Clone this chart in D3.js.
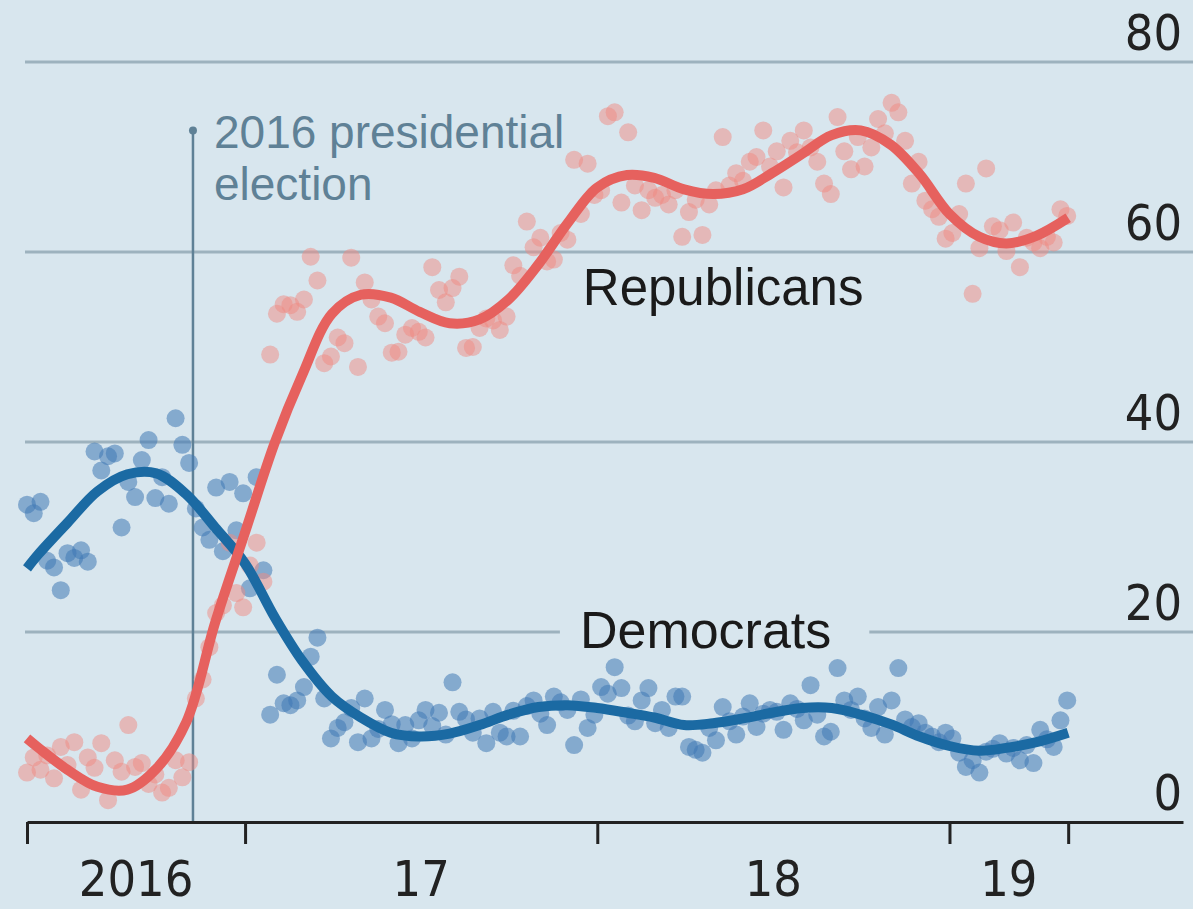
<!DOCTYPE html>
<html>
<head>
<meta charset="utf-8">
<script src="https://d3js.org/d3.v7.min.js"></script>
<style>
  html, body { margin: 0; padding: 0; background: #d8e6ee; }
  svg { display: block; }
</style>
</head>
<body>
<svg id="chart"></svg>
<script>
// weekly polls, first one on 2016-05-20
const pollStart = "2016-05-20";

const repPolls = [
  5.2, 6.8, 5.5, 7.0, 4.6, 7.9, 6.0, 8.4, 3.4, 6.8,
  5.7, 8.3, 2.3, 6.5, 5.3, 10.2, 5.8, 6.2, 4.0, 5.0,
  3.1, 3.6, 6.5, 4.7, 6.3, 13, 15, 18.4, 22, 22.8,
  29.4, 24.1, 22.6, 27, 29.4, 25.3, 49.2, 53.5, 54.5, 54.4,
  53.7, 55, 59.5, 57, 48.3, 49, 51, 50.4, 59.4, 47.9,
  56.8, 55, 53.2, 52.5, 49.4, 49.5, 51.3, 52, 51.6, 51,
  58.4, 56, 54.7, 56.2, 57.4, 49.9, 50, 52, 53, 52.8,
  51.8, 53.2, 58.6, 57.5, 63.2, 60.5, 61.5, 59, 59.2, 62,
  61.3, 69.7, 64, 69.3, 66, 66.5, 74.3, 74.7, 65.2, 72.6,
  67, 64.4, 66.5, 65.7, 66, 65, 66.5, 61.6, 64.2, 65.5,
  61.8, 65, 66.5, 72.1, 67, 68.3, 67.5, 69.5, 70, 72.8,
  69, 70.6, 66.8, 71.7, 70.5, 72.8, 71, 69.5, 67.2, 66.1,
  74.2, 70.6, 68.7, 72.1, 69, 71, 74, 72.5, 75.7, 74.7,
  71.7, 67.2, 69.5, 65.4, 64.5, 63.7, 61.4, 62, 64, 67.2,
  55.6, 60.4, 68.8, 62.7, 62.3, 60.1, 63.1, 58.4, 61.5, 61,
  60.4, 61.6, 61, 64.5, 63.8
];

const demPolls = [
  33.4, 32.5, 33.7, 27.5, 26.8, 24.4, 28.3, 27.8, 28.6, 27.4,
  39, 37, 38.5, 38.8, 31, 35.8, 34.2, 38.1, 40.2, 34.1,
  36.3, 33.5, 42.5, 39.7, 37.8, 33, 31, 29.7, 35.2, 28.5,
  35.8, 30.7, 34.6, 24.6, 36.3, 26.5, 11.3, 15.5, 12.5, 12.3,
  12.8, 14.2, 17.4, 19.4, 13, 8.8, 9.9, 10.5, 12, 8.4,
  13, 8.8, 9.8, 11.8, 10.3, 8.3, 10.2, 8.8, 10.7, 11.8,
  10.1, 11.5, 9.2, 14.7, 11.6, 10.8, 9.4, 10.9, 8.3, 11.6,
  9.4, 9, 11.7, 9, 12.2, 12.8, 11.4, 10.2, 13.2, 12.6,
  11.8, 8.1, 12.9, 9.9, 11.3, 14.2, 13.5, 16.3, 14.1, 11.2,
  10.6, 12.8, 14.1, 10.4, 11.8, 9.9, 13.2, 13.2, 7.9, 7.6,
  7.3, 9.9, 8.6, 12.1, 10.6, 9.2, 11.1, 12.5, 10, 11.4,
  11.8, 11.6, 9.7, 12.5, 11.9, 10.7, 14.4, 11.3, 9, 9.5,
  16.2, 12.8, 11.8, 13.2, 10.9, 9.9, 12.1, 9.2, 12.8, 16.2,
  10.8, 10, 10.4, 9.4, 9, 8.4, 9.4, 8.8, 7.3, 5.8,
  6.5, 5.2, 7.4, 7.7, 8.3, 7.2, 7.8, 6.5, 8.1, 6.2,
  9.7, 8.7, 7.9, 10.7, 12.8
];

// smoothed trend, read off roughly monthly
const trendDates = [
  "2016-05-20", "2016-06-01", "2016-07-01", "2016-08-01", "2016-09-01", "2016-10-01",
  "2016-11-01", "2016-12-01", "2017-01-01", "2017-02-01", "2017-03-01", "2017-04-01",
  "2017-05-01", "2017-06-01", "2017-07-01", "2017-08-01", "2017-09-01", "2017-10-01",
  "2017-11-01", "2017-12-01", "2018-01-01", "2018-02-01", "2018-03-01", "2018-04-01",
  "2018-05-01", "2018-06-01", "2018-07-01", "2018-08-01", "2018-09-01", "2018-10-01",
  "2018-11-01", "2018-12-01", "2019-01-01", "2019-02-01", "2019-03-01", "2019-04-01",
  "2019-05-04"
];
const repTrend = [
  8.8, 7.8, 5.5, 3.7, 3.4, 5.6, 10.5, 21, 30.5, 40, 47, 53.5,
  55.5, 55.2, 53.7, 52.5, 52.9, 55, 58.7, 63, 66.8, 68.1, 67.8, 66.6,
  66.1, 66.6, 68.3, 70.3, 72.3, 72.8, 71.3, 68.2, 64, 61.6, 60.9, 61.7,
  63.6
];
const demTrend = [
  26.7, 28.2, 31.5, 34.8, 36.6, 36.7, 34.5, 31, 27.2, 21.5, 17, 13.2,
  11, 9.4, 9, 9.3, 10.2, 11.3, 12.1, 12.3, 12, 11.5, 11, 10.2,
  10.4, 10.9, 11.5, 12, 12, 11.3, 10.3, 9, 8, 7.5, 7.8, 8.4,
  9.4
];

const yTicks = [0, 20, 40, 60, 80];
const xTickDates = ["2016-05-20", "2017-01-01", "2018-01-01", "2019-01-01", "2019-05-04"];
const yearLabels = ["2016", "17", "18", "19"];
const electionDate = "2016-11-08";

const W = 1193, H = 909;
const bg = "#d8e6ee";
const parse = d3.timeParse("%Y-%m-%d");
const t0 = parse(pollStart);

const svg = d3.select("#chart").attr("width", W).attr("height", H);
svg.append("rect").attr("width", W).attr("height", H).attr("fill", bg);

const x = d3.scaleTime()
  .domain([parse("2016-05-20"), parse("2019-08-31")])
  .range([27, 1183]);
const y = d3.scaleLinear().domain([0, 80]).range([822, 62]);

const sansFont = "'Liberation Sans', Arial, sans-serif";
const narrowFont = "'Liberation Sans Narrow', 'DejaVu Sans Condensed', sans-serif";

// gridlines + right-hand labels
const grid = svg.append("g");
grid.selectAll("line")
  .data(yTicks.filter(d => d > 0))
  .join("line")
    .attr("x1", 25).attr("x2", W)
    .attr("y1", d => y(d)).attr("y2", d => y(d))
    .attr("stroke", "#9db2be")
    .attr("stroke-width", 3);

svg.append("g").selectAll("text")
  .data(yTicks)
  .join("text")
    .attr("x", 1182)
    .attr("y", d => y(d) - 12)
    .attr("text-anchor", "end")
    .attr("font-family", narrowFont)
    .attr("font-size", 50)
    .attr("fill", "#222")
    .text(d => d);

// election marker
const xe = x(parse(electionDate));
svg.append("line")
  .attr("x1", xe).attr("x2", xe)
  .attr("y1", y(72.8)).attr("y2", y(0))
  .attr("stroke", "#5f8196")
  .attr("stroke-width", 2.5);
svg.append("circle")
  .attr("cx", xe).attr("cy", y(72.8)).attr("r", 4)
  .attr("fill", "#5f8196");
const elect = svg.append("text")
  .attr("font-family", sansFont)
  .attr("font-size", 46)
  .attr("fill", "#5f8196");
elect.append("tspan").attr("x", xe + 21).attr("y", y(70.9)).text("2016 presidential");
elect.append("tspan").attr("x", xe + 21).attr("y", y(65.5)).text("election");

// label patch that cuts the 20 gridline (sized after the text below)
const patch = svg.append("rect").attr("fill", bg);

// poll dots
const weekDate = i => d3.timeDay.offset(t0, 7 * i);

svg.append("g").selectAll("circle")
  .data(demPolls)
  .join("circle")
    .attr("cx", (d, i) => x(weekDate(i)))
    .attr("cy", d => y(d))
    .attr("r", 9)
    .attr("fill", "#3f78b5")
    .attr("fill-opacity", 0.55);

svg.append("g").selectAll("circle")
  .data(repPolls)
  .join("circle")
    .attr("cx", (d, i) => x(weekDate(i)))
    .attr("cy", d => y(d))
    .attr("r", 9)
    .attr("fill", "#f08a82")
    .attr("fill-opacity", 0.5);

// trend lines
const tDates = trendDates.map(parse);
const line = d3.line()
  .x((d, i) => x(tDates[i]))
  .y(d => y(d))
  .curve(d3.curveCatmullRom);

svg.append("path")
  .attr("d", line(demTrend))
  .attr("fill", "none")
  .attr("stroke", "#1b6aa3")
  .attr("stroke-width", 10);

svg.append("path")
  .attr("d", line(repTrend))
  .attr("fill", "none")
  .attr("stroke", "#e6615e")
  .attr("stroke-width", 10);

// series labels
svg.append("text")
  .attr("x", x(parse("2017-12-17")))
  .attr("y", y(54.4))
  .attr("font-family", sansFont)
  .attr("font-size", 51)
  .attr("fill", "#1a1a1a")
  .text("Republicans");

const dem = svg.append("text")
  .attr("x", x(parse("2017-12-14")))
  .attr("y", y(18.3))
  .attr("font-family", sansFont)
  .attr("font-size", 52)
  .attr("fill", "#1a1a1a")
  .text("Democrats");
const bb = dem.node().getBBox();
patch
  .attr("x", bb.x - 20)
  .attr("y", y(20) - 3)
  .attr("width", bb.width + 58)
  .attr("height", 6);

// x axis
const xAxis = d3.axisBottom(x)
  .tickValues(xTickDates.map(parse))
  .tickFormat("")
  .tickSize(22)
  .tickSizeOuter(0);

const gx = svg.append("g")
  .attr("transform", `translate(0,${y(0)})`)
  .call(xAxis);
gx.select(".domain").attr("stroke", "#222").attr("stroke-width", 3);
gx.selectAll(".tick line").attr("stroke", "#222").attr("stroke-width", 3);

const tickX = xTickDates.map(s => x(parse(s)));
svg.append("g").selectAll("text")
  .data(yearLabels)
  .join("text")
    .attr("x", (d, i) => (tickX[i] + tickX[i + 1]) / 2)
    .attr("y", 896)
    .attr("text-anchor", "middle")
    .attr("font-family", narrowFont)
    .attr("font-size", 50)
    .attr("fill", "#222")
    .text(d => d);
</script>
</body>
</html>
